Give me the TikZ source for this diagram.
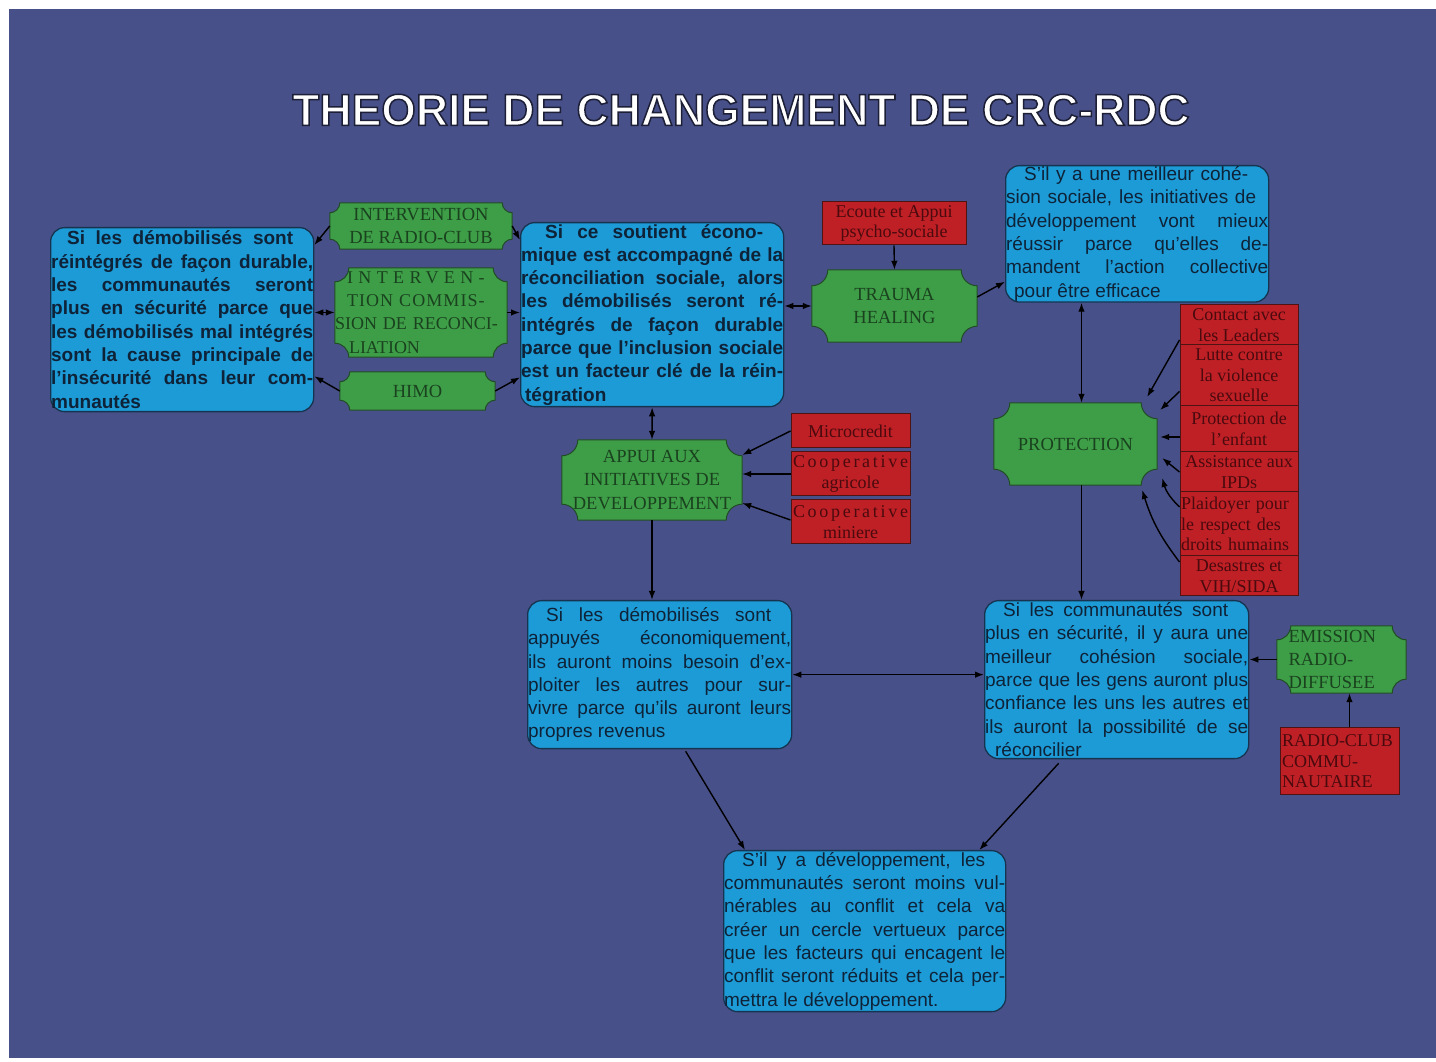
\documentclass[tikz,border=0pt]{standalone}
\usepackage{fontspec}
\setmainfont{Liberation Serif}
\setsansfont{Liberation Sans}
\usetikzlibrary{arrows,arrows.meta}
\usetikzlibrary{calc,backgrounds}

\definecolor{fond}{RGB}{71,80,136}
\definecolor{cyanbox}{RGB}{29,155,214}
\definecolor{cyanline}{RGB}{22,52,80}
\definecolor{cyantext}{RGB}{14,34,56}
\definecolor{vert}{RGB}{62,158,72}
\definecolor{vertline}{RGB}{34,76,38}
\definecolor{verttext}{RGB}{26,66,30}
\definecolor{rouge}{RGB}{190,32,38}
\definecolor{rougeline}{RGB}{78,20,20}
\definecolor{rougetext}{RGB}{74,10,14}

% plaque with concave corners around a node: #1 node, #2 radius
\newcommand\plaque[2]{%
  \path[plaquefill] ($(#1.south west)+(#2,0)$) -- ($(#1.south east)+(-#2,0)$)
    arc[start angle=180,end angle=90,radius=#2] -- ($(#1.north east)+(0,-#2)$)
    arc[start angle=270,end angle=180,radius=#2] -- ($(#1.north west)+(#2,0)$)
    arc[start angle=0,end angle=-90,radius=#2] -- ($(#1.south west)+(0,#2)$)
    arc[start angle=90,end angle=0,radius=#2] -- cycle;}
\newcommand\espace[2]{{\addfontfeature{LetterSpace=#1}#2}}
% white letters with a dark outline
\newcommand\cerne[1]{\special{pdf:literal direct 2 Tr 1.5 w 0.11 0.12 0.21 RG}#1\special{pdf:literal direct 0 Tr}}

\begin{document}
\begin{tikzpicture}[x=1pt,y=1pt]
\tikzstyle{bluebox}=[rectangle, rounded corners=14pt, draw=cyanline, line width=1.3pt, fill=cyanbox, inner xsep=0.5pt, inner ysep=1pt, anchor=north west, align=justify, text=cyantext, font=\sffamily\fontsize{19}{23.3}\selectfont]
\tikzstyle{greenbox}=[rectangle, inner sep=0pt, align=center, text=verttext, font=\fontsize{18.5}{23.3}\selectfont]
\tikzstyle{redbox}=[rectangle, draw=rougeline, line width=1pt, fill=rouge, inner sep=0pt, align=center, text=rougetext, font=\fontsize{18}{20.5}\selectfont]
\tikzstyle{plaquefill}=[draw=vertline, line width=1pt, fill=vert]
\tikzstyle{titre}=[text=white, font=\sffamily\bfseries\fontsize{44.5}{44.5}\selectfont]
\tikzstyle{connect}=[-{Latex[length=9pt,width=6.5pt]}, line width=1.4pt]
\tikzstyle{both}=[{Latex[length=9pt,width=6.5pt]}-{Latex[length=9pt,width=6.5pt]}, line width=1.4pt]
\useasboundingbox (0,0) rectangle (1436,1061);
\begin{scope}[on background layer]
  \fill[fond] (9,3) rectangle (1436,1052);
\end{scope}

  \node[titre] (titre) at (741,951) {\cerne{THEORIE DE CHANGEMENT DE CRC-RDC}};

  % blue boxes
  \node[bluebox, text width=262pt, minimum height=184pt, font=\sffamily\bfseries\fontsize{19}{23.3}\selectfont] (reintegre) at (50,834)
    {\hspace*{16pt}Si les démobilisés sont\hspace*{20pt}\linebreak
     réintégrés de façon durable,\linebreak les communautés seront\linebreak
     plus en sécurité parce que\linebreak les démobilisés mal intégrés\linebreak
     sont la cause principale de\linebreak l’insécurité dans leur com-\linebreak munautés};
  \node[bluebox, text width=262pt, minimum height=184pt, font=\sffamily\bfseries\fontsize{19}{23.3}\selectfont] (soutien) at (520,839)
    {\hspace*{24pt}Si ce soutient écono-\hspace*{20pt}\linebreak
     mique est accompagné de la\linebreak réconciliation sociale, alors\linebreak
     les démobilisés seront ré-\linebreak intégrés de façon durable\linebreak
     parce que l’inclusion sociale\linebreak est un facteur clé de la réin-\linebreak
     \hspace*{4pt}tégration};
  \node[bluebox, text width=262pt, minimum height=134pt] (cohesion) at (1005,896)
    {\hspace*{18pt}S’il y a une meilleur cohé-\hspace*{20pt}\linebreak
     sion sociale, les initiatives de\hspace*{12pt}\linebreak
     développement vont mieux\linebreak réussir parce qu’elles de-\linebreak
     mandent l’action collective\linebreak \hspace*{8pt}pour être efficace};
  \node[bluebox, text width=263pt, minimum height=148pt] (appuyes) at (527,461)
    {\hspace*{18pt}Si les démobilisés sont\hspace*{20pt}\linebreak
     appuyés économiquement,\linebreak ils auront moins besoin d’ex-\linebreak
     ploiter les autres pour sur-\linebreak vivre parce qu’ils auront leurs\linebreak
     propres revenus};
  \node[bluebox, text width=263pt, minimum height=158pt] (securite) at (984,461)
    {\hspace*{18pt}Si les communautés sont\hspace*{20pt}\linebreak
     plus en sécurité, il y aura une\linebreak meilleur cohésion sociale,\linebreak
     parce que les gens auront plus\linebreak confiance les uns les autres et\linebreak
     ils auront la possibilité de se\linebreak \hspace*{10pt}réconcilier};
  \node[bluebox, text width=281pt, minimum height=161pt] (developpement) at (723,211)
    {\hspace*{18pt}S’il y a développement, les\hspace*{20pt}\linebreak
     communautés seront moins vul-\linebreak nérables au conflit et cela va\linebreak
     créer un cercle vertueux parce\linebreak que les facteurs qui encagent le\linebreak
     conflit seront réduits et cela per-\linebreak mettra le développement.};

  % green plaques
  \node[greenbox, minimum width=182pt, minimum height=46pt] (radio) at (421,835) {INTERVENTION\\DE RADIO-CLUB};
  \node[greenbox, minimum width=172pt, minimum height=89pt, text width=172pt, align=left, font=\fontsize{18}{23.3}\selectfont] (commission) at (421,748.5)
    {\hspace*{12pt}\espace{30}{INTERVEN-}\\\hspace*{12pt}\espace{6}{TION COMMIS-}\\SION DE RECONCI-\\\hspace*{14pt}LIATION};
  \node[greenbox, minimum width=155pt, minimum height=38pt] (himo) at (417.5,670) {HIMO};
  \node[greenbox, minimum width=165pt, minimum height=72pt] (trauma) at (894.5,755) {TRAUMA\\HEALING};
  \node[greenbox, minimum width=180pt, minimum height=80pt] (appui) at (652,581) {APPUI AUX\\INITIATIVES DE\\DEVELOPPEMENT};
  \node[greenbox, minimum width=163pt, minimum height=82pt] (protection) at (1075.5,617) {PROTECTION};
  \node[greenbox, minimum width=129pt, minimum height=67pt, text width=106pt, align=left] (emission) at (1341.5,401.5) {EMISSION\\RADIO-\\DIFFUSEE};

  % red boxes
  \node[redbox, minimum width=144pt, minimum height=43pt] (ecoute) at (894,837.5) {Ecoute et Appui\\psycho-sociale};
  \node[redbox, minimum width=119pt, minimum height=34pt] (microcredit) at (850.5,630) {Microcredit};
  \node[redbox, minimum width=119pt, minimum height=44pt] (coopagri) at (850.5,587) {\espace{15}{Cooperative}\\agricole};
  \node[redbox, minimum width=119pt, minimum height=44pt] (coopmin) at (850.5,539) {\espace{15}{Cooperative}\\miniere};
  \node[redbox, minimum width=118pt, minimum height=40pt] (contact) at (1239,736) {Contact avec\\les Leaders};
  \node[redbox, minimum width=118pt, minimum height=61pt] (lutte) at (1239,685.5) {Lutte contre\\la violence\\sexuelle};
  \node[redbox, minimum width=118pt, minimum height=46pt] (enfant) at (1239,632) {Protection de\\l’enfant};
  \node[redbox, minimum width=118pt, minimum height=40pt] (ipd) at (1239,589) {Assistance aux\\IPDs};
  \node[redbox, minimum width=118pt, minimum height=64pt, text width=116pt, align=left] (plaidoyer) at (1239,537) {Plaidoyer pour\\le respect des\\droits humains};
  \node[redbox, minimum width=118pt, minimum height=40pt] (desastres) at (1239,485) {Desastres et\\VIH/SIDA};
  \node[redbox, minimum width=119pt, minimum height=67pt, text width=115pt, align=left] (radioclub) at (1339.5,299.5) {RADIO-CLUB\\COMMU-\\NAUTAIRE};

\begin{scope}[on background layer]
  \foreach \n/\r in {radio/10pt, commission/14pt, himo/10pt, trauma/16pt, appui/16pt, protection/16pt, emission/14pt}
    \plaque{\n}{\r};
\end{scope}

  \path (radio.west) edge [connect] ([yshift=-18pt]reintegre.north east)
        (radio.east) edge [connect] ([yshift=-18pt]soutien.north west)
        (commission.west) edge [both] (commission.west -| reintegre.east)
        (commission.east) edge [connect] (commission.east -| soutien.west)
        (himo.west) edge [connect] ([yshift=36pt]reintegre.south east)
        (himo.east) edge [connect] ([yshift=30pt]soutien.south west)
        (trauma.west -| soutien.east) edge [both] (trauma.west)
        (ecoute.south) edge [connect] (trauma.north)
        ([yshift=9pt]trauma.east) edge [connect] ([yshift=21pt]cohesion.south west)
        ([xshift=6pt]protection.north |- cohesion.south) edge [both] ([xshift=6pt]protection.north)
        (soutien.south) edge [both] (appui.north)
        (microcredit.west) edge [connect] ([yshift=25pt]appui.east)
        (coopagri.west) edge [connect] (coopagri.west -| appui.east)
        ([yshift=2pt]coopmin.west) edge [connect] ([yshift=-23pt]appui.east)
        (appui.south) edge [connect] (appui.south |- appuyes.north)
        ([yshift=-15pt]contact.west) edge [connect] ([xshift=-10pt,yshift=47pt]protection.east)
        ([yshift=-16pt]lutte.west) edge [connect] ([xshift=3pt,yshift=34pt]protection.east)
        ([yshift=-8pt]enfant.west) edge [connect] ([xshift=3pt,yshift=7pt]protection.east)
        (ipd.west) edge [connect] ([xshift=5pt,yshift=-14pt]protection.east)
        ([yshift=17pt]plaidoyer.west) edge [connect, bend left=15] ([xshift=5pt,yshift=-34pt]protection.east)
        ([yshift=14pt]desastres.west) edge [connect, bend left=10] ([xshift=-15pt,yshift=-46pt]protection.east)
        ([xshift=6pt]protection.south) edge [connect] ([xshift=6pt]protection.south |- securite.north)
        (appuyes.east) edge [both] (appuyes.east -| securite.west)
        (emission.west) edge [connect] (emission.west -| securite.east)
        ([xshift=10pt]radioclub.north) edge [connect] ([xshift=8pt]emission.south)
        ([xshift=26pt,yshift=-2pt]appuyes.south) edge [connect] ([xshift=22pt]developpement.north west)
        ([xshift=-58pt,yshift=-4pt]securite.south) edge [connect] ([xshift=-27pt]developpement.north east);
\end{tikzpicture}
\end{document}
